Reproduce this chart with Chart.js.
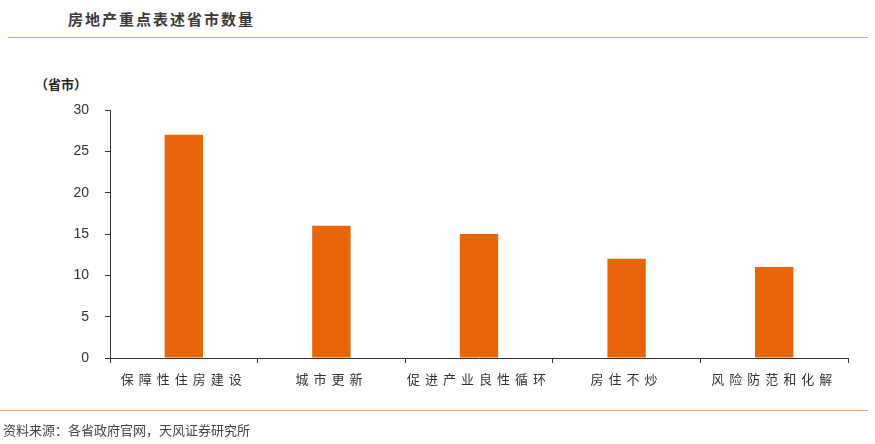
<!DOCTYPE html>
<html>
<head>
<meta charset="utf-8">
<title>房地产重点表述省市数量</title>
<script src="https://cdn.jsdelivr.net/npm/chart.js@4/dist/chart.umd.min.js"></script>
<style>
  body { margin: 0; background: #fff; font-family: "Noto Sans CJK SC", "Noto Sans", sans-serif; }
  #page { position: relative; width: 875px; height: 444px; overflow: hidden; }
  #title { position: absolute; left: 68px; top: 8px; font-size: 15px; font-weight: bold; color: #3a3a3a; letter-spacing: 2px; }
  .rule { position: absolute; height: 1px; background: #f0a868; }
  #unit { position: absolute; left: 35px; top: 74px; font-size: 13px; font-weight: bold; color: #222; }
  #source { position: absolute; left: 3px; top: 420px; font-size: 13px; color: #444; }
  #chartBox { position: absolute; left: 0; top: 0; width: 875px; height: 444px; }
</style>
</head>
<body>
<div id="page">
  <div id="title">房地产重点表述省市数量</div>
  <div class="rule" style="left:8px; top:37px; width:860px;"></div>
  <div id="unit">（省市）</div>
  <div id="chartBox"><canvas id="barChart"></canvas></div>
  <div class="rule" style="left:0; top:410px; width:868px;"></div>
  <div id="source">资料来源：各省政府官网，天风证券研究所</div>
</div>
<script>
// 数据
const categories = ['保障性住房建设', '城市更新', '促进产业良性循环', '房住不炒', '风险防范和化解'];
const counts = [27, 16, 15, 12, 11];
const yTicks = [0, 5, 10, 15, 20, 25, 30];

// x 轴标签加字距
const spacedLabels = {
    id: 'spacedLabels',
    beforeDraw(chart) {
        const scale = chart.scales.x;
        if (scale._spaced) return;
        const orig = scale.drawLabels;
        scale.drawLabels = function(area) {
            const ctx = this.ctx;
            ctx.save();
            ctx.letterSpacing = '5px';
            orig.call(this, area);
            ctx.restore();
        };
        scale._spaced = true;
    }
};

const ctx = document.getElementById('barChart').getContext('2d');
new Chart(ctx, {
    type: 'bar',
    data: {
        labels: categories,
        datasets: [{
            label: '省市数量',
            data: counts,
            backgroundColor: '#e8650a',
            borderWidth: 0,
            categoryPercentage: 1,
            barPercentage: 0.26
        }]
    },
    options: {
        responsive: true,
        maintainAspectRatio: false,
        animation: false,
        layout: { padding: { top: 110, right: 27, bottom: 46, left: 0 } },
        plugins: {
            legend: { display: false },
            tooltip: { enabled: false }
        },
        scales: {
            x: {
                offset: true,
                afterFit(scale) { scale.height = 40; },
                grid: {
                    offset: true,
                    drawOnChartArea: false,
                    drawTicks: true,
                    tickLength: 5,
                    color: '#333'
                },
                border: { color: '#333', width: 1 },
                ticks: {
                    padding: 8,
                    color: '#333',
                    font: { family: '"Noto Sans CJK SC"', size: 13 },
                    maxRotation: 0,
                    autoSkip: false
                }
            },
            y: {
                min: 0,
                max: 30,
                afterFit(scale) { scale.width = 110; },
                afterBuildTicks(scale) { scale.ticks = yTicks.map(v => ({ value: v })); },
                grid: {
                    drawOnChartArea: false,
                    drawTicks: true,
                    tickLength: 5,
                    color: '#333'
                },
                border: { color: '#333', width: 1 },
                ticks: {
                    padding: 16,
                    color: '#333',
                    font: { family: 'Arial, "Liberation Sans", sans-serif', size: 14 }
                }
            }
        }
    },
    plugins: [spacedLabels]
});
</script>
</body>
</html>
